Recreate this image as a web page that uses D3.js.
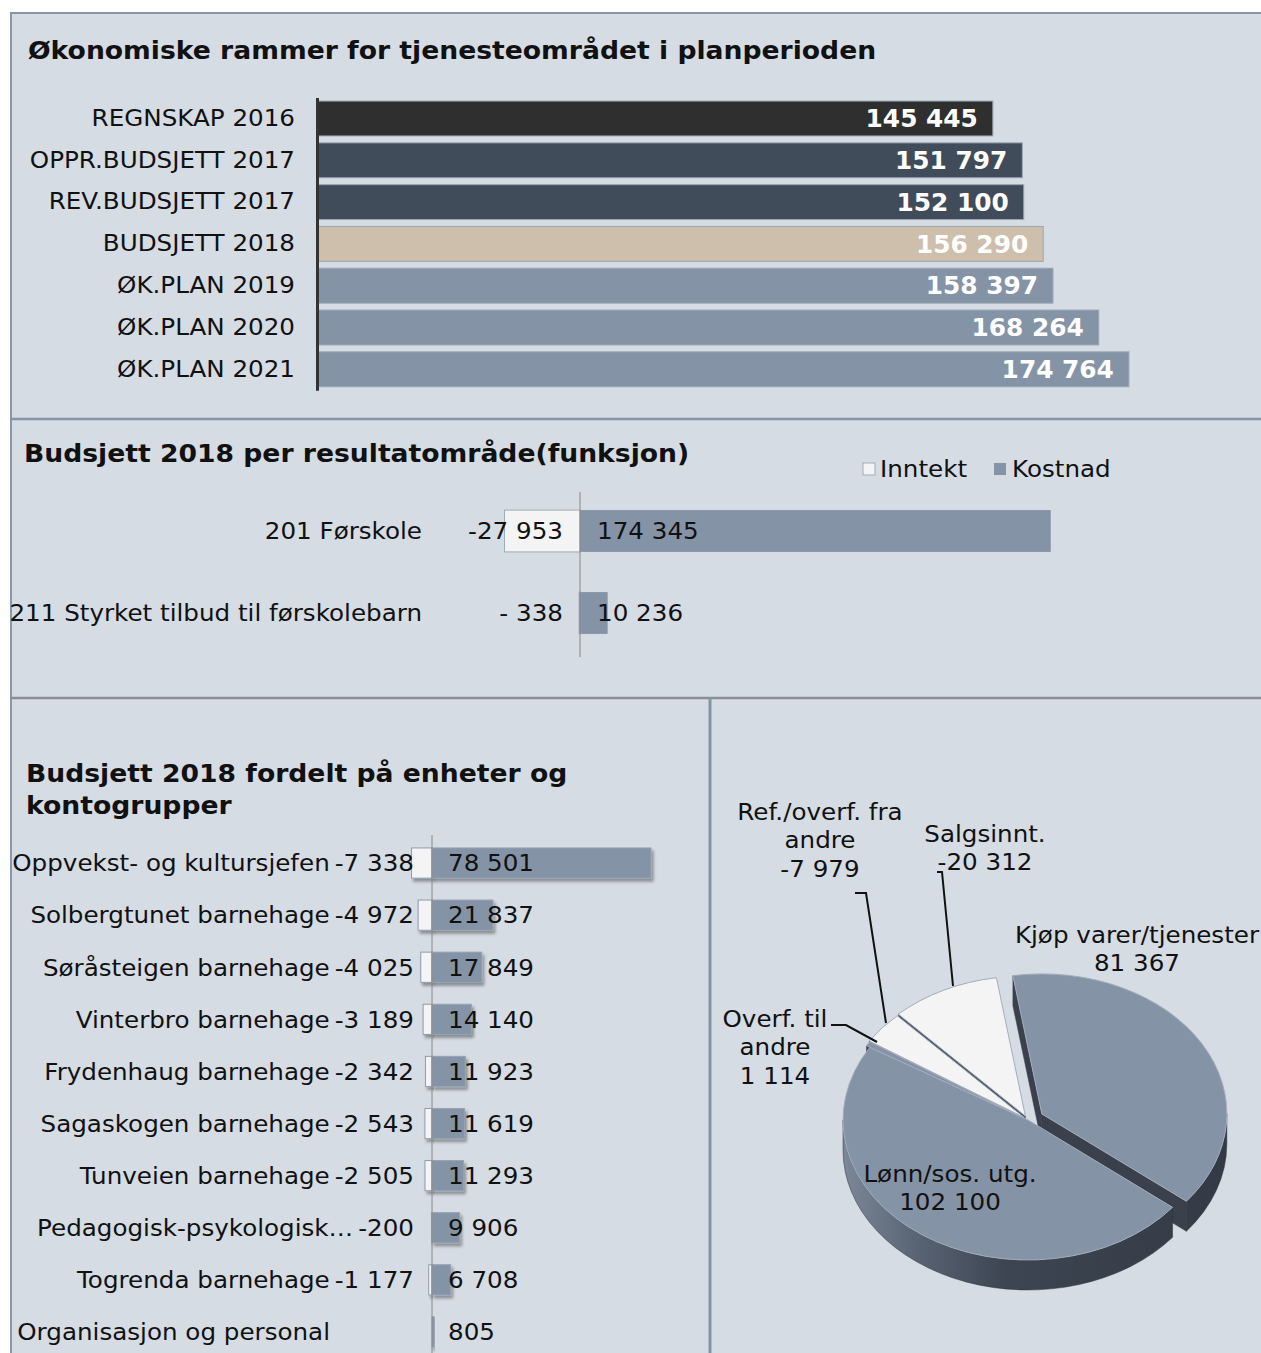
<!DOCTYPE html>
<html lang="no">
<head>
<meta charset="utf-8">
<title>Budsjett 2018</title>
<script src="https://cdn.jsdelivr.net/npm/d3@7"></script>
<style>
  body { margin: 0; background: #fff; }
  text { font-family: "DejaVu Sans", Verdana, sans-serif; fill: #111; }
  .title { font-weight: bold; font-size: 25px; }
</style>
</head>
<body>
<script>
// --- data ---
var rammeKategorier = ["REGNSKAP 2016", "OPPR.BUDSJETT 2017", "REV.BUDSJETT 2017", "BUDSJETT 2018", "ØK.PLAN 2019", "ØK.PLAN 2020", "ØK.PLAN 2021"];
var rammeVerdier = [145445, 151797, 152100, 156290, 158397, 168264, 174764];
var rammeFarger = ["#2f2f2f", "#404c5a", "#404c5a", "#cdbfab", "#8593a6", "#8593a6", "#8593a6"];

var funksjoner = ["201 Førskole", "211 Styrket tilbud til førskolebarn"];
var funksjonInntekt = [-27953, -338];
var funksjonKostnad = [174345, 10236];

var enheter = ["Oppvekst- og kultursjefen", "Solbergtunet barnehage", "Søråsteigen barnehage", "Vinterbro barnehage", "Frydenhaug barnehage", "Sagaskogen barnehage", "Tunveien barnehage", "Pedagogisk-psykologisk…", "Togrenda barnehage", "Organisasjon og personal"];
var enhetInntekt = [-7338, -4972, -4025, -3189, -2342, -2543, -2505, -200, -1177, null];
var enhetKostnad = [78501, 21837, 17849, 14140, 11923, 11619, 11293, 9906, 6708, 805];

var kontogrupper = ["Kjøp varer/tjenester", "Lønn/sos. utg.", "Overf. til\nandre", "Ref./overf. fra\nandre", "Salgsinnt."];
var kontoVerdier = [81367, 102100, 1114, -7979, -20312];

var W = 1261, H = 1353;
var bg = "#d5dce3", grey = "#8593a6", white = "#f4f4f4";
var K = 1.07; // the source image is a little wider than tall

// thousands separated by a space
function fmt(v) { return d3.format(",")(v).replace(/,/g, " ").replace("−", "-"); }
// Excel-ish "### ###" format: small negatives get "- 338"
function fmtX(v) { return (v < 0 && v > -1000) ? "- " + Math.abs(v) : fmt(v); }

// widen text horizontally, keeping its anchor x
function stretch(sel, k) {
  sel.each(function () {
    var t = d3.select(this);
    if (t.attr("x") != null) t.attr("x", +t.attr("x") / k);
    t.selectAll("tspan").each(function () {
      var s = d3.select(this);
      if (s.attr("x") != null) s.attr("x", +s.attr("x") / k);
    });
    t.attr("transform", "scale(" + k + ",1)");
  });
  return sel;
}

var svg = d3.select("body").append("svg").attr("width", W).attr("height", H);

var defs = svg.append("defs");
var sh = defs.append("filter").attr("id", "shadow").attr("x", "-20%").attr("y", "-30%").attr("width", "150%").attr("height", "180%");
sh.append("feDropShadow").attr("dx", 2).attr("dy", 3).attr("stdDeviation", 1.5).attr("flood-color", "#000").attr("flood-opacity", 0.35);

var sideGrad = defs.append("linearGradient").attr("id", "side").attr("gradientUnits", "userSpaceOnUse")
  .attr("x1", 843).attr("y1", 0).attr("x2", 1230).attr("y2", 0);
sideGrad.append("stop").attr("offset", "0%").attr("stop-color", "#7c8797");
sideGrad.append("stop").attr("offset", "18%").attr("stop-color", "#5a6575");
sideGrad.append("stop").attr("offset", "42%").attr("stop-color", "#3d4552");
sideGrad.append("stop").attr("offset", "100%").attr("stop-color", "#333a45");

// --- panels ---
svg.append("rect").attr("x", 10).attr("y", 12).attr("width", W - 10).attr("height", H - 12).attr("fill", bg);
svg.append("line").attr("x1", 10).attr("x2", W).attr("y1", 13).attr("y2", 13).attr("stroke", "#8594a8").attr("stroke-width", 2);
svg.append("line").attr("x1", 11).attr("x2", 11).attr("y1", 12).attr("y2", H).attr("stroke", "#8a98ab").attr("stroke-width", 2);
svg.append("line").attr("x1", 10).attr("x2", W).attr("y1", 419).attr("y2", 419).attr("stroke", "#8494a9").attr("stroke-width", 2.5);
svg.append("line").attr("x1", 10).attr("x2", W).attr("y1", 698).attr("y2", 698).attr("stroke", "#8c8f92").attr("stroke-width", 2.5);
svg.append("line").attr("x1", 710).attr("x2", 710).attr("y1", 698).attr("y2", H).attr("stroke", "#8593a6").attr("stroke-width", 3);

// --- chart 1: økonomiske rammer ---
stretch(svg.append("text").attr("class", "title").attr("x", 28).attr("y", 59).text("Økonomiske rammer for tjenesteområdet i planperioden"), 1.065);

var x1 = d3.scaleLinear().domain([0, 200000]).range([318, 1246]);
var y1 = d3.scaleBand().domain(rammeKategorier).range([97.6, 390.2]).paddingInner(0.165).paddingOuter(0.0825);

var g1 = svg.append("g");
g1.selectAll("rect").data(rammeVerdier).enter().append("rect")
  .attr("x", x1(0)).attr("y", (d, i) => y1(rammeKategorier[i]))
  .attr("width", d => x1(d) - x1(0)).attr("height", y1.bandwidth())
  .attr("fill", (d, i) => rammeFarger[i]).attr("stroke", "#9aa6b6").attr("stroke-width", 1);
stretch(g1.selectAll("text.val").data(rammeVerdier).enter().append("text").attr("class", "val")
  .attr("x", d => x1(d) - 15).attr("y", (d, i) => y1(rammeKategorier[i]) + y1.bandwidth() / 2)
  .attr("dy", "0.36em").attr("text-anchor", "end")
  .style("fill", "#fff").style("font-weight", "bold").style("font-size", "24px")
  .text(d => fmt(d)), 1.035);

var ax1 = svg.append("g").attr("transform", "translate(317,0)")
  .call(d3.axisLeft(y1).tickSize(0).tickPadding(22));
ax1.select(".domain").attr("stroke", "#333").attr("stroke-width", 3);
ax1.selectAll("text").style("font-size", "23px").style("font-family", '"DejaVu Sans", Verdana, sans-serif').attr("fill", "#111");
stretch(ax1.selectAll("text"), K);

// --- chart 2: per resultatområde ---
stretch(svg.append("text").attr("class", "title").attr("x", 24).attr("y", 462).text("Budsjett 2018 per resultatområde(funksjon)"), 1.065);

var lg = svg.append("g");
lg.append("rect").attr("x", 863).attr("y", 463).attr("width", 12).attr("height", 12).attr("fill", white).attr("stroke", "#a0abb9");
stretch(lg.append("text").attr("x", 880).attr("y", 477).style("font-size", "23px").text("Inntekt"), K);
lg.append("rect").attr("x", 994).attr("y", 463).attr("width", 12).attr("height", 12).attr("fill", grey);
stretch(lg.append("text").attr("x", 1012).attr("y", 477).style("font-size", "23px").text("Kostnad"), K);

var x2 = d3.scaleLinear().domain([-50000, 200000]).range([445, 1120]);
var y2 = d3.scaleBand().domain(funksjoner).range([490, 654]).paddingInner(0.49).paddingOuter(0.245);

var g2 = svg.append("g");
g2.selectAll("rect.inn").data(funksjonInntekt).enter().append("rect").attr("class", "inn")
  .attr("x", d => x2(d)).attr("y", (d, i) => y2(funksjoner[i]))
  .attr("width", d => x2(0) - x2(d)).attr("height", y2.bandwidth())
  .attr("fill", white).attr("stroke", "#a0abb9").attr("stroke-width", 1);
g2.selectAll("rect.kost").data(funksjonKostnad).enter().append("rect").attr("class", "kost")
  .attr("x", x2(0)).attr("y", (d, i) => y2(funksjoner[i]))
  .attr("width", d => x2(d) - x2(0)).attr("height", y2.bandwidth())
  .attr("fill", grey);
g2.append("line").attr("x1", x2(0)).attr("x2", x2(0)).attr("y1", 492).attr("y2", 657).attr("stroke", "#888").attr("stroke-width", 1);
stretch(g2.selectAll("text.cat").data(funksjoner).enter().append("text").attr("class", "cat")
  .attr("x", 422).attr("y", d => y2(d) + y2.bandwidth() / 2).attr("dy", "0.36em")
  .attr("text-anchor", "end").style("font-size", "23px").text(d => d), K);
stretch(g2.selectAll("text.ni").data(funksjonInntekt).enter().append("text").attr("class", "ni")
  .attr("x", x2(0) - 17).attr("y", (d, i) => y2(funksjoner[i]) + y2.bandwidth() / 2).attr("dy", "0.36em")
  .attr("text-anchor", "end").style("font-size", "23px").text(d => fmtX(d)), K);
stretch(g2.selectAll("text.nk").data(funksjonKostnad).enter().append("text").attr("class", "nk")
  .attr("x", x2(0) + 17).attr("y", (d, i) => y2(funksjoner[i]) + y2.bandwidth() / 2).attr("dy", "0.36em")
  .style("font-size", "23px").text(d => fmtX(d)), K);

// --- chart 3: enheter ---
stretch(svg.append("text").attr("class", "title").attr("x", 26).attr("y", 782).text("Budsjett 2018 fordelt på enheter og"), 1.065);
stretch(svg.append("text").attr("class", "title").attr("x", 26).attr("y", 814).text("kontogrupper"), 1.065);

var x3 = d3.scaleLinear().domain([-20000, 100000]).range([376.2, 711]);
var y3 = d3.scaleBand().domain(enheter).range([837, 1358]).paddingInner(0.42).paddingOuter(0.21);

var g3 = svg.append("g");
g3.selectAll("rect.inn").data(enhetInntekt).enter().filter(d => d != null).append("rect").attr("class", "inn")
  .attr("x", d => x3(d)).attr("y", d => y3(enheter[enhetInntekt.indexOf(d)]))
  .attr("width", d => x3(0) - x3(d)).attr("height", y3.bandwidth())
  .attr("fill", white).attr("stroke", "#8f9cae").attr("stroke-width", 1).attr("filter", "url(#shadow)");
g3.selectAll("rect.kost").data(enhetKostnad).enter().append("rect").attr("class", "kost")
  .attr("x", x3(0)).attr("y", (d, i) => y3(enheter[i]))
  .attr("width", d => x3(d) - x3(0)).attr("height", y3.bandwidth())
  .attr("fill", grey).attr("stroke", "#97a3b4").attr("stroke-width", 1).attr("filter", "url(#shadow)");
g3.append("line").attr("x1", x3(0)).attr("x2", x3(0)).attr("y1", 835).attr("y2", H).attr("stroke", "#888").attr("stroke-width", 1);

enheter.forEach(function (name, i) {
  var cyRow = y3(name) + y3.bandwidth() / 2;
  var nameEnd = 330;
  if (enhetInntekt[i] != null) {
    var t = g3.append("text").attr("x", 414).attr("y", cyRow).attr("dy", "0.36em")
      .attr("text-anchor", "end").style("font-size", "23px").text(fmt(enhetInntekt[i]));
    stretch(t, K);
    nameEnd = 414 - t.node().getComputedTextLength() * K - 5;
  }
  stretch(g3.append("text").attr("x", nameEnd).attr("y", cyRow).attr("dy", "0.36em")
    .attr("text-anchor", "end").style("font-size", "23px").text(name), K);
  stretch(g3.append("text").attr("x", x3(0) + 16).attr("y", cyRow).attr("dy", "0.36em")
    .style("font-size", "23px").text(fmt(enhetKostnad[i])), K);
});

// --- chart 4: 3D pie per kontogruppe ---
var cx = 1028, cy = 1120, rx = 185, ry = 140, depth = 30;
var explode = [16, 0, 4, 5, 6];
var start = -9 * Math.PI / 180;
var pie = d3.pie().sort(null).value(d => Math.abs(d)).startAngle(start).endAngle(start + 2 * Math.PI);
var arcs = pie(kontoVerdier);

arcs.forEach(function (a, i) {
  var mid = (a.startAngle + a.endAngle) / 2;
  a.ox = cx + explode[i] * Math.sin(mid);
  a.oy = cy - explode[i] * (ry / rx) * Math.cos(mid);
  a.top = kontoVerdier[i] < 0 ? white : grey;
  a.wall = kontoVerdier[i] < 0 ? "#4d5460" : "#3a414c";
});
function P(a, ang, dz) { return [a.ox + rx * Math.sin(ang), a.oy - ry * Math.cos(ang) + (dz || 0)]; }

var g4 = svg.append("g");
// radial walls
arcs.forEach(function (a) {
  [[a.startAngle, Math.sin(a.startAngle) < 0], [a.endAngle, Math.sin(a.endAngle) > 0]].forEach(function (e) {
    if (!e[1]) return;
    var p = P(a, e[0]), q = P(a, e[0], depth);
    var path = d3.path();
    path.moveTo(a.ox, a.oy); path.lineTo(p[0], p[1]); path.lineTo(q[0], q[1]); path.lineTo(a.ox, a.oy + depth); path.closePath();
    g4.append("path").attr("d", path.toString()).attr("fill", a.wall).attr("stroke", a.wall).attr("stroke-width", 0.5);
  });
});
// outer walls (front half only)
arcs.forEach(function (a) {
  var s = Math.max(a.startAngle, Math.PI / 2), e = Math.min(a.endAngle, 3 * Math.PI / 2);
  if (s >= e) return;
  var p0 = P(a, s), p1 = P(a, e), q1 = P(a, e, depth), q0 = P(a, s, depth);
  var d = "M" + p0 + "A" + rx + "," + ry + " 0 0 1 " + p1 + "L" + q1 + "A" + rx + "," + ry + " 0 0 0 " + q0 + "Z";
  g4.append("path").attr("d", d).attr("fill", "url(#side)").attr("stroke", "#2e343d").attr("stroke-width", 0.5);
});
// top faces
arcs.forEach(function (a) {
  var p0 = P(a, a.startAngle), p1 = P(a, a.endAngle);
  var large = (a.endAngle - a.startAngle) > Math.PI ? 1 : 0;
  var d = "M" + a.ox + "," + a.oy + "L" + p0 + "A" + rx + "," + ry + " 0 " + large + " 1 " + p1 + "Z";
  g4.append("path").attr("d", d).attr("fill", a.top).attr("stroke", "#a3adbb").attr("stroke-width", 1);
});

// labels and leader lines
var labelPos = [[1137, 943], [950, 1182], [775, 1027], [820, 820], [985, 842]];
var leaders = [null, null, [[831, 1025], [846, 1025], [877, 1042]], [[855, 893], [866, 893], [886, 1023]], [[937, 872], [942, 872], [953, 986]]];
kontogrupper.forEach(function (name, i) {
  var lines = name.split("\n").concat([fmt(kontoVerdier[i])]);
  var t = g4.append("text").attr("text-anchor", "middle").style("font-size", "23px");
  lines.forEach(function (l, k) {
    t.append("tspan").attr("x", labelPos[i][0]).attr("y", labelPos[i][1] + k * 28.5).text(l);
  });
  stretch(t, K);
  if (leaders[i]) {
    g4.append("path").attr("d", d3.line()(leaders[i])).attr("fill", "none").attr("stroke", "#111").attr("stroke-width", 2);
  }
});
</script>
</body>
</html>
